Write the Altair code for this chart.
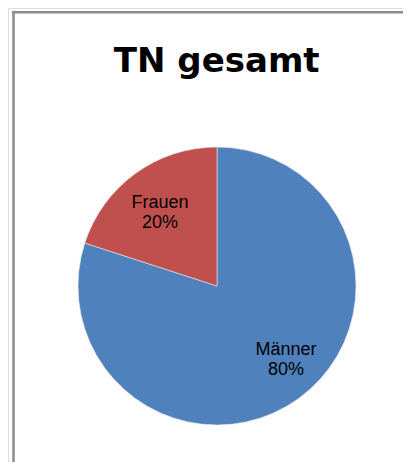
import altair as alt
import pandas as pd

TITLE = "TN gesamt"
categories = ["Männer", "Frauen"]
values = [80, 20]
colors = ["#4F81BD", "#C0504D"]

df = pd.DataFrame({"cat": categories, "value": values, "idx": [0, 1]})
TOTAL = sum(values)

CX, CY = 209, 278

pie = alt.Chart(df).mark_arc(radius=139, stroke="#e8e8e8", strokeWidth=0.6).encode(
    theta=alt.Theta("value:Q", stack=True),
    order=alt.Order("idx:Q"),
    color=alt.Color("cat:N", scale=alt.Scale(domain=categories, range=colors), legend=None),
    x=alt.value(CX),
    y=alt.value(CY),
)

stacked = alt.Chart(df).transform_stack(
    stack="value", groupby=[], as_=["s0", "s1"], sort=[alt.SortField("idx", order="ascending")]
).transform_calculate(
    mid="(datum.s0 + datum.s1) / 2",
    label="datum.cat + '\\n' + datum.value + '%'",
)


def label_layer(cat, dx, dy):
    return stacked.transform_filter(
        alt.datum.cat == cat
    ).mark_text(
        radius=97, font="Liberation Sans", fontSize=18, lineHeight=20,
        lineBreak="\n", color="black", align="center", baseline="middle",
        dx=dx, dy=dy,
    ).encode(
        theta=alt.Theta("mid:Q", scale=alt.Scale(domain=[0, TOTAL]), stack=None),
        text="label:N",
        x=alt.value(CX),
        y=alt.value(CY),
    )


labels_m = label_layer(categories[0], 12, -14)
labels_f = label_layer(categories[1], 0, -4.5)

title = alt.Chart(df).transform_filter("datum.idx == 0").mark_text(
    font="DejaVu Sans", fontWeight="bold", fontSize=34, color="black",
    align="center", baseline="alphabetic"
).encode(text=alt.datum(TITLE), x=alt.value(208.7), y=alt.value(63.7))

frame_top = alt.Chart(df).transform_filter("datum.idx == 0").mark_rule(
    color="#8c8c8c", strokeWidth=2.5
).encode(x=alt.value(4), x2=alt.value(395), y=alt.value(4.2))

frame_left = alt.Chart(df).transform_filter("datum.idx == 0").mark_rule(
    color="#8c8c8c", strokeWidth=2.5
).encode(x=alt.value(5.5), y=alt.value(3), y2=alt.value(454))

chart = alt.layer(frame_top, frame_left, pie, labels_m, labels_f, title).properties(
    width=395, height=454,
    autosize=alt.AutoSizeParams(type="none"),
    padding=0,
).resolve_scale(theta="independent").configure_view(stroke=None).configure(background="white")

chart.save("out.html", embed_options={"renderer": "svg", "actions": False})
